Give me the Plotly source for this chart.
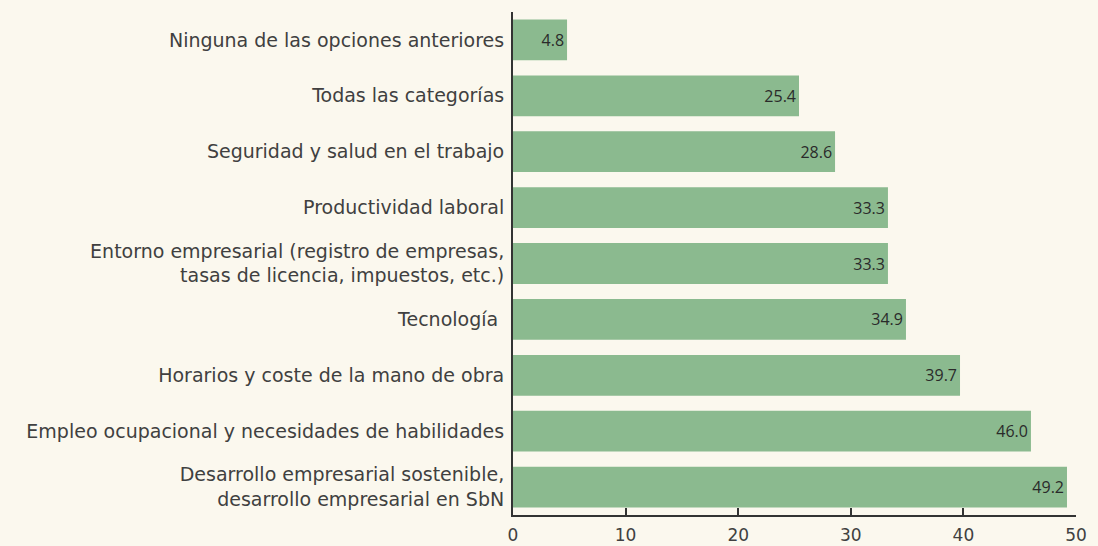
import plotly.graph_objects as go

categories = [
    "Ninguna de las opciones anteriores",
    "Todas las categorías",
    "Seguridad y salud en el trabajo",
    "Productividad laboral",
    "Entorno empresarial (registro de empresas,<br>tasas de licencia, impuestos, etc.)",
    "Tecnología ",
    "Horarios y coste de la mano de obra",
    "Empleo ocupacional y necesidades de habilidades",
    "Desarrollo empresarial sostenible,<br>desarrollo empresarial en SbN",
]
values = [4.8, 25.4, 28.6, 33.3, 33.3, 34.9, 39.7, 46.0, 49.2]
x_ticks = [0, 10, 20, 30, 40, 50]

BG = "#FBF8EE"
BAR = "#8BBA8F"
TXT = "#404040"

fig = go.Figure(go.Bar(
    x=values, y=categories, orientation="h",
    marker=dict(color=BAR, line=dict(width=0)),
    text=[f"{v:.1f}" for v in values],
    textposition="inside", insidetextanchor="end",
    textfont=dict(family="Open Sans", size=16, color="#2a2a2a"),
    cliponaxis=False,
))

fig.update_layout(
    width=1098, height=546,
    paper_bgcolor=BG, plot_bgcolor=BG,
    margin=dict(l=513, r=22, t=12, b=31),
    bargap=0.27,
    showlegend=False,
    font=dict(family="DejaVu Sans", color=TXT),
)
fig.update_yaxes(
    autorange="reversed", automargin=False,
    showline=True, linecolor="#333", linewidth=2,
    layer="below traces",
    ticks="", ticklabelstandoff=3,
    tickfont=dict(family="DejaVu Sans", size=19, color=TXT),
    showgrid=False, zeroline=False,
)
fig.update_xaxes(
    range=[0, 50], tickvals=x_ticks, automargin=False,
    showline=True, linecolor="#333", linewidth=2,
    ticks="inside", ticklen=7, tickwidth=2, tickcolor="#333",
    ticklabelstandoff=4,
    tickfont=dict(family="DejaVu Sans", size=17, color=TXT),
    showgrid=False, zeroline=False,
)
fig.write_html(
    "out.html",
    config={"displayModeBar": False},
    post_script="document.body.style.margin='0';document.body.style.background='%s';" % BG,
)
